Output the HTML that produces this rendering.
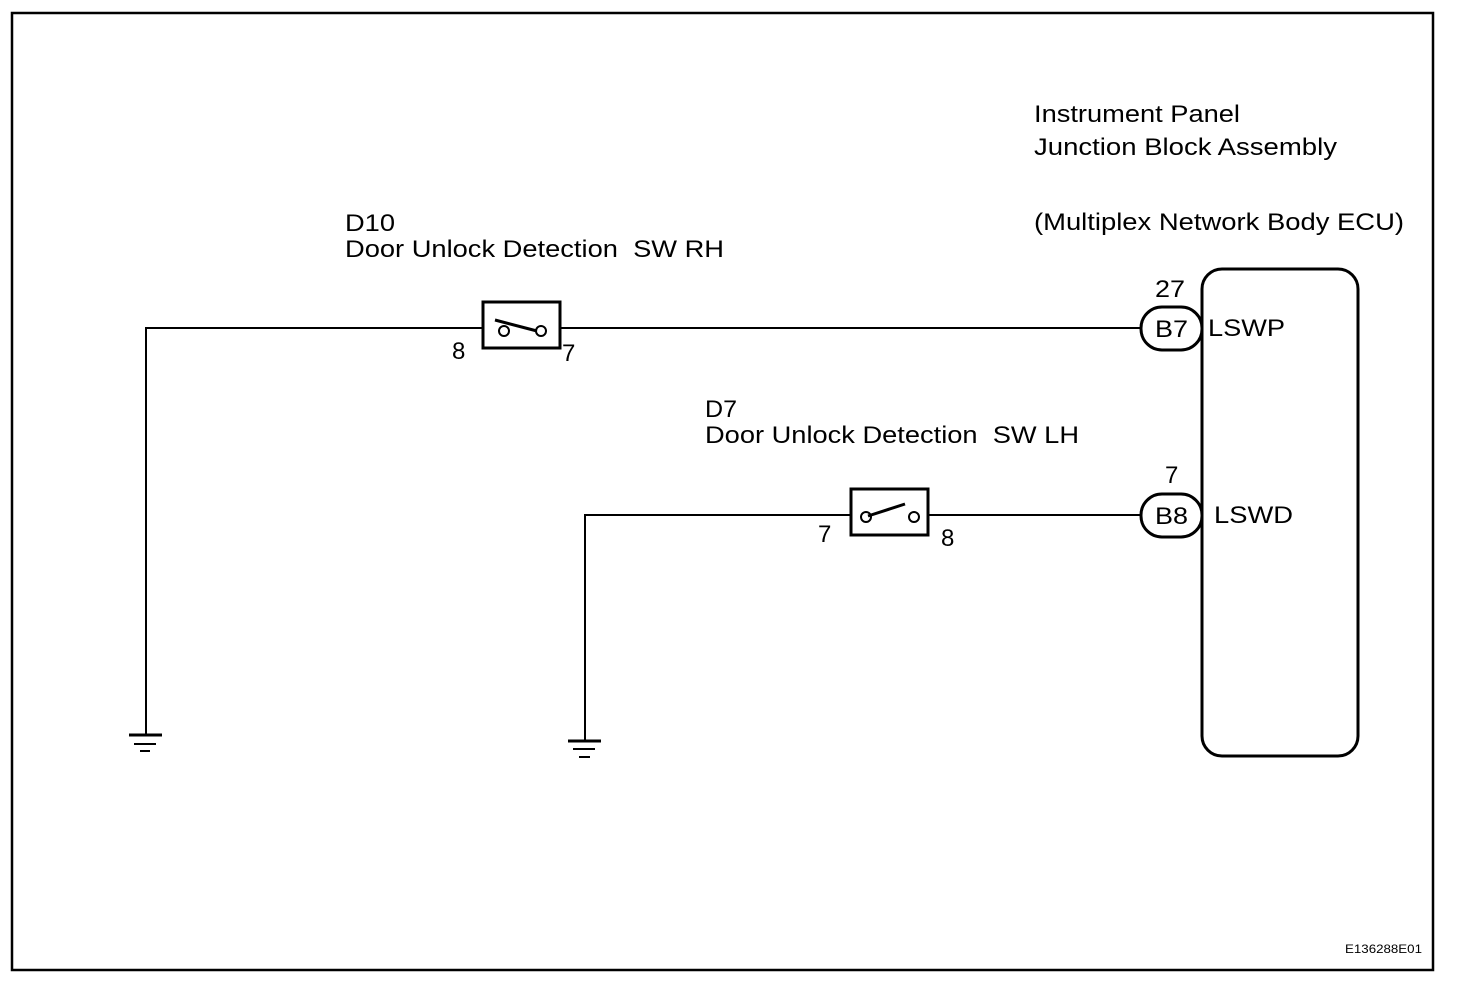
<!DOCTYPE html>
<html><head><style>body{margin:0;background:#fff}svg{display:block}text{font-family:"Liberation Sans",sans-serif;fill:#000;white-space:pre}</style></head>
<body>
<svg width="1472" height="988" viewBox="0 0 1472 988">
<rect x="12" y="13" width="1421" height="957" fill="none" stroke="#000" stroke-width="2.5"/>
<g stroke="#000" fill="none" stroke-width="2">
<polyline points="146,735 146,328 483,328"/>
<line x1="560" y1="328" x2="1140" y2="328"/>
<polyline points="585,741 585,515 851,515"/>
<line x1="928" y1="515" x2="1140" y2="515"/>
<rect x="483" y="302" width="77" height="46" stroke-width="3"/>
<rect x="851" y="489" width="77" height="46" stroke-width="3"/>
<circle cx="504" cy="331" r="5"/><circle cx="541" cy="331" r="5"/>
<circle cx="866" cy="517" r="5"/><circle cx="914" cy="517" r="5"/>
<line x1="495" y1="320" x2="537" y2="331" stroke-width="3"/>
<line x1="868" y1="516" x2="905" y2="504" stroke-width="3"/>
<rect x="1202" y="269" width="156" height="487" rx="20" stroke-width="3"/>
<rect x="1141" y="307" width="61" height="43" rx="21" stroke-width="3"/>
<rect x="1141" y="494" width="61" height="43" rx="21" stroke-width="3"/>
</g>
<g stroke="#000" stroke-width="3">
<line x1="129" y1="735" x2="162" y2="735"/><line x1="134" y1="744" x2="156" y2="744" stroke-width="2"/><line x1="140" y1="751" x2="150" y2="751" stroke-width="2"/>
<line x1="568" y1="741" x2="601" y2="741"/><line x1="573" y1="749" x2="595" y2="749" stroke-width="2"/><line x1="579" y1="757" x2="590" y2="757" stroke-width="2"/>
</g>
<g font-size="24">
<text x="345" y="231" textLength="50" lengthAdjust="spacingAndGlyphs">D10</text>
<text x="345" y="257" textLength="379" lengthAdjust="spacingAndGlyphs">Door Unlock Detection  SW RH</text>
<text x="705" y="417" textLength="32" lengthAdjust="spacingAndGlyphs">D7</text>
<text x="705" y="443" textLength="374" lengthAdjust="spacingAndGlyphs">Door Unlock Detection  SW LH</text>
<text x="1034" y="122" textLength="206" lengthAdjust="spacingAndGlyphs">Instrument Panel</text>
<text x="1034" y="155" textLength="303" lengthAdjust="spacingAndGlyphs">Junction Block Assembly</text>
<text x="1034" y="230" textLength="370" lengthAdjust="spacingAndGlyphs">(Multiplex Network Body ECU)</text>
<text x="1155" y="297" textLength="30" lengthAdjust="spacingAndGlyphs">27</text>
<text x="1165" y="483">7</text>
<text x="1155" y="337" textLength="33" lengthAdjust="spacingAndGlyphs">B7</text>
<text x="1155" y="524" textLength="33" lengthAdjust="spacingAndGlyphs">B8</text>
<text x="1208" y="336" textLength="77" lengthAdjust="spacingAndGlyphs">LSWP</text>
<text x="1214" y="523" textLength="79" lengthAdjust="spacingAndGlyphs">LSWD</text>
<text x="452" y="359">8</text>
<text x="562" y="361">7</text>
<text x="818" y="542">7</text>
<text x="941" y="546">8</text>
</g>
<text x="1345" y="953" font-size="12" textLength="77" lengthAdjust="spacingAndGlyphs">E136288E01</text>
</svg>
</body></html>
